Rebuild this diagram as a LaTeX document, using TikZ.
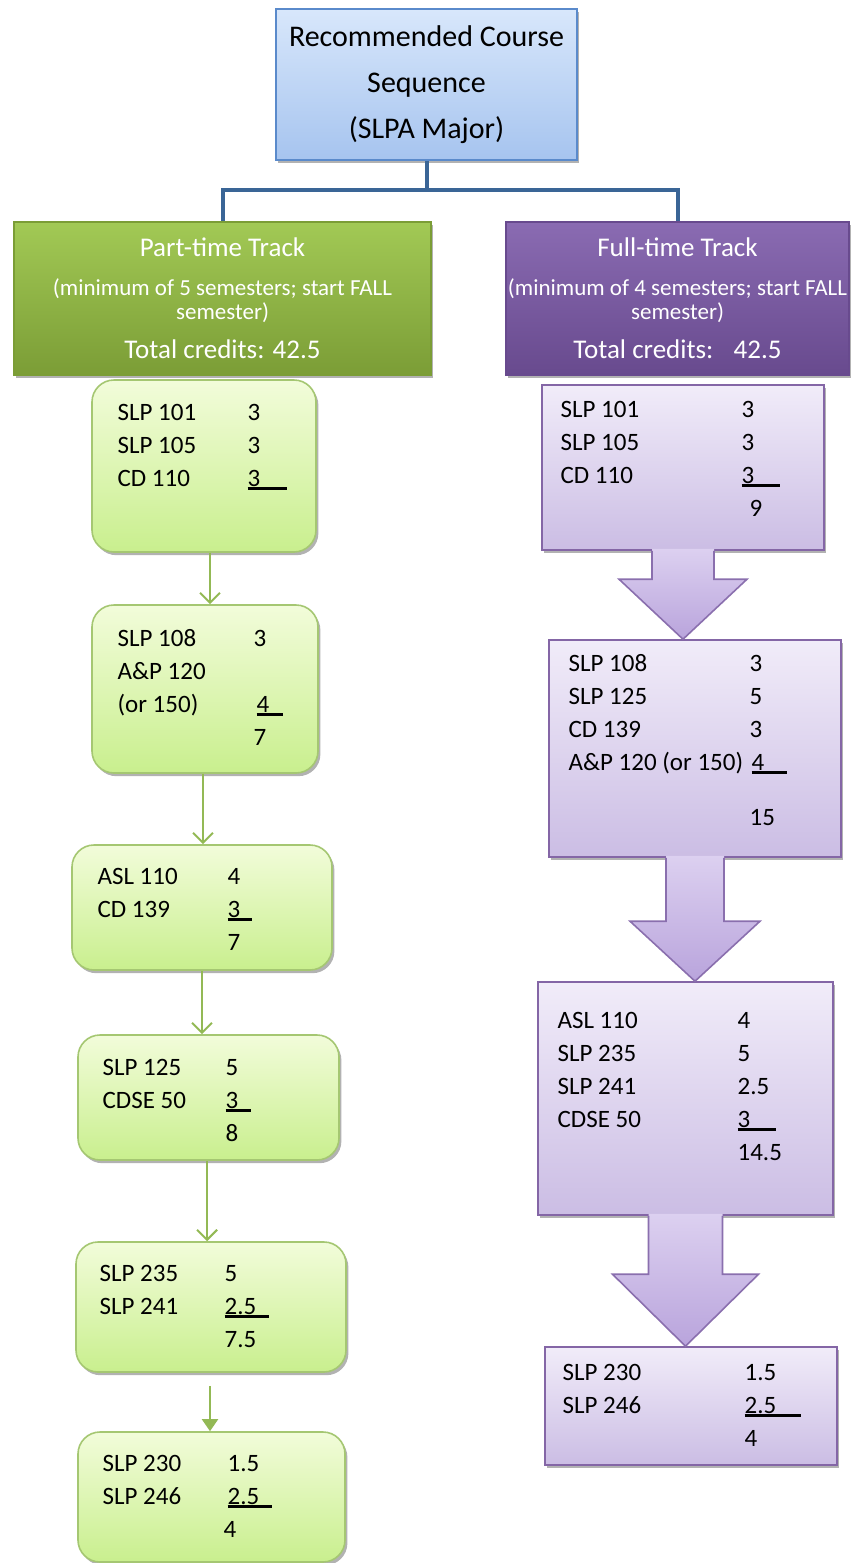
\documentclass[tikz,border=0pt]{standalone}
\usepackage{fontspec}
\setmainfont{Carlito}
\usetikzlibrary{shadows, positioning, calc, arrows.meta}

\definecolor{titletop}{HTML}{D8E7FB}
\definecolor{titlebot}{HTML}{A6C4EF}
\definecolor{titleline}{HTML}{5A8ACB}
\definecolor{connblue}{HTML}{3A6596}
\definecolor{gtracktop}{HTML}{A2C955}
\definecolor{gtrackbot}{HTML}{7B9D36}
\definecolor{ptracktop}{HTML}{8A6BB2}
\definecolor{ptrackbot}{HTML}{684A8E}
\definecolor{gtop}{HTML}{F2FCDA}
\definecolor{gbot}{HTML}{C9EF8E}
\definecolor{gline}{HTML}{A5C772}
\definecolor{garr}{HTML}{93B955}
\definecolor{ptop}{HTML}{F1ECF9}
\definecolor{pbot}{HTML}{CBBDE4}
\definecolor{pline}{HTML}{8466A6}
\definecolor{atop}{HTML}{DCD0F0}
\definecolor{abot}{HTML}{B9A4DC}
\definecolor{aline}{HTML}{8A6FAE}

\newcommand{\sumline}[2]{\rlap{\rule[-1.7pt]{#2}{1.2pt}}#1}
\newcommand{\trkbig}{\fontsize{13.5}{16}\selectfont}
% block arrow: from node, to node, stem half width, head half width, head length
\newcommand{\blockarrow}[5]{%
  \path[blockfill] let \p1=(#1.south), \p2=(#2.north) in
    (\x1-#3,\y1+1pt) -- (\x1-#3,\y2+#5) -- (\x1-#4,\y2+#5) -- (\x1,\y2)
    -- (\x1+#4,\y2+#5) -- (\x1+#3,\y2+#5) -- (\x1+#3,\y1+1pt) -- cycle;
  \draw[blockline] let \p1=(#1.south), \p2=(#2.north) in
    (\x1-#3,\y1) -- (\x1-#3,\y2+#5) -- (\x1-#4,\y2+#5) -- (\x1,\y2)
    -- (\x1+#4,\y2+#5) -- (\x1+#3,\y2+#5) -- (\x1+#3,\y1);}

\begin{document}
\begin{tikzpicture}[x=0.5pt, y=-0.5pt,
    shade/.style={drop shadow={shadow xshift=1.2pt, shadow yshift=-1.6pt, opacity=.3, fill=black}},
    head/.style={shade, draw=titleline, line width=0.8pt, top color=titletop, bottom color=titlebot,
                 minimum width=150.5pt, minimum height=75.5pt, align=center, font=\fontsize{15}{23}\selectfont},
    track/.style={shade, draw=#1trackbot, line width=0.6pt, top color=#1tracktop, bottom color=#1trackbot,
                  minimum height=76.5pt, inner sep=0pt, align=center, text=white, font=\fontsize{11.5}{12}\selectfont},
    gbox/.style={shade, draw=gline, line width=0.8pt, rounded corners=11pt, top color=gtop, bottom color=gbot},
    pbox/.style={shade, draw=pline, line width=0.8pt, top color=ptop, bottom color=pbot},
    crs/.style={inner sep=0pt, anchor=base west, font=\fontsize{12.5}{16.5}\selectfont},
    conn/.style={draw=connblue, line width=2pt},
    garrow/.style={draw=garr, line width=1pt, -{Straight Barb[length=5pt,width=10pt]}},
    blockfill/.style={top color=atop, bottom color=abot, draw=none},
    blockline/.style={draw=aline, line width=0.8pt, line join=miter}]

    \useasboundingbox (0,0) rectangle (851,1563);

    % title and the two tracks
    \node[head] (title) at (426.5,84.5) {Recommended Course\\Sequence\\(SLPA Major)};
    \node[track=g, minimum width=208.5pt] (pt) at (222.5,298.5)
        {{\trkbig Part-time Track}\\[7.5pt] (minimum of 5 semesters; start FALL\\ semester)\\[7.5pt]
         {\trkbig Total credits: 42.5}};
    \node[track=p, minimum width=171.5pt] (ft) at (677.5,298.5)
        {{\trkbig Full-time Track}\\[7.5pt] (minimum of 4 semesters; start FALL\\ semester)\\[7.5pt]
         {\trkbig Total credits:~~ 42.5}};

    \coordinate (split) at (426.5,190);
    \draw[conn] (title.south) -- (split) -| (pt.north);
    \draw[conn] (split) -| (ft.north);

    % part-time semesters
    \node[gbox, minimum width=112pt, minimum height=86pt] (g1) at (204,466) {};
    \node[gbox, minimum width=113pt, minimum height=84pt] (g2) at (205,689) {};
    \node[gbox, minimum width=130pt, minimum height=62.5pt] (g3) at (202,907.5) {};
    \node[gbox, minimum width=130.5pt, minimum height=62.5pt] (g4) at (208.5,1097.5) {};
    \node[gbox, minimum width=135pt, minimum height=65pt] (g5) at (211,1307) {};
    \node[gbox, minimum width=133.5pt, minimum height=65pt] (g6) at (211.5,1497) {};

    \node[crs] (g1t) at ($(g1.north west)+(26,41)$) {\begin{tabular}[t]{@{}p{65pt}@{}l@{}}
        SLP 101 & 3\\ SLP 105 & 3\\ CD 110 & \sumline{3}{19.5pt}\end{tabular}};
    \node[crs] (g2t) at ($(g2.north west)+(26,42)$) {\begin{tabular}[t]{@{}p{68pt}@{}l@{}}
        SLP 108 & 3\\ A\&P 120 & \\ (or 150) & \hspace{1.5pt}\sumline{4}{13pt}\\ & 7\end{tabular}};
    \node[crs] (g3t) at ($(g3.north west)+(26,40)$) {\begin{tabular}[t]{@{}p{65pt}@{}l@{}}
        ASL 110 & 4\\ CD 139 & \sumline{3}{12pt}\\ & 7\end{tabular}};
    \node[crs] (g4t) at ($(g4.north west)+(25,41)$) {\begin{tabular}[t]{@{}p{61.5pt}@{}l@{}}
        SLP 125 & 5\\ CDSE 50 & \sumline{3}{12.5pt}\\ & 8\end{tabular}};
    \node[crs] (g5t) at ($(g5.north west)+(24,40)$) {\begin{tabular}[t]{@{}p{62.5pt}@{}l@{}}
        SLP 235 & 5\\ SLP 241 & \sumline{2.5}{22pt}\\ & 7.5\end{tabular}};
    \node[crs] (g6t) at ($(g6.north west)+(25,40)$) {\begin{tabular}[t]{@{}p{62.5pt}@{}l@{}}
        SLP 230 & 1.5\\ SLP 246 & \sumline{2.5}{22pt}\\ & \hspace{-2pt}4\end{tabular}};

    \draw[garrow] ([xshift=3pt]g1.south) -- ([xshift=3pt]g1.south |- g2.north);
    \draw[garrow] ([xshift=-1pt]g2.south) -- ([xshift=-1pt]g2.south |- g3.north);
    \draw[garrow] (g3.south) -- (g3.south |- g4.north);
    \draw[garrow] ([xshift=-0.7pt]g4.south) -- ([xshift=-0.7pt]g4.south |- g5.north);
    \draw[draw=garr, line width=1pt, -{Triangle[length=6pt,width=8pt]}]
        ([shift={(-0.5pt,-6.5pt)}]g5.south) -- ([xshift=-0.5pt]g5.south |- g6.north);

    % full-time semesters
    \node[pbox, minimum width=141pt, minimum height=82.5pt] (p1) at (683,467.5) {};
    \node[pbox, minimum width=146pt, minimum height=108.5pt] (p2) at (695,748.5) {};
    \node[pbox, minimum width=147.5pt, minimum height=116.5pt] (p3) at (685.5,1098.5) {};
    \node[pbox, minimum width=146pt, minimum height=59pt] (p4) at (691,1406) {};

    \node[crs] (p1t) at ($(p1.north west)+(19,33)$) {\begin{tabular}[t]{@{}p{90.5pt}@{}l@{}}
        SLP 101 & 3\\ SLP 105 & 3\\ CD 110 & \sumline{3}{19pt}\\ & \hspace{4pt}9\end{tabular}};
    \node[crs] (p2t) at ($(p2.north west)+(20,32)$) {\begin{tabular}[t]{@{}p{90.5pt}@{}l@{}}
        SLP 108 & 3\\ SLP 125 & 5\\ CD 139 & 3\\ A\&P 120 (or 150) & \hspace{1pt}\sumline{4}{17.5pt}\\[11pt]
        & 15\end{tabular}};
    \node[crs] (p3t) at ($(p3.north west)+(20,47)$) {\begin{tabular}[t]{@{}p{90pt}@{}l@{}}
        ASL 110 & 4\\ SLP 235 & 5\\ SLP 241 & 2.5\\ CDSE 50 & \sumline{3}{19pt}\\ & 14.5\end{tabular}};
    \node[crs] (p4t) at ($(p4.north west)+(18,34)$) {\begin{tabular}[t]{@{}p{91pt}@{}l@{}}
        SLP 230 & 1.5\\ SLP 246 & \sumline{2.5}{28pt}\\ & 4\end{tabular}};

    \blockarrow{p1}{p2}{15.5pt}{32pt}{30pt}
    \blockarrow{p2}{p3}{14.5pt}{32.5pt}{30pt}
    \blockarrow{p3}{p4}{18.5pt}{36.5pt}{36pt}

\end{tikzpicture}
\end{document}
